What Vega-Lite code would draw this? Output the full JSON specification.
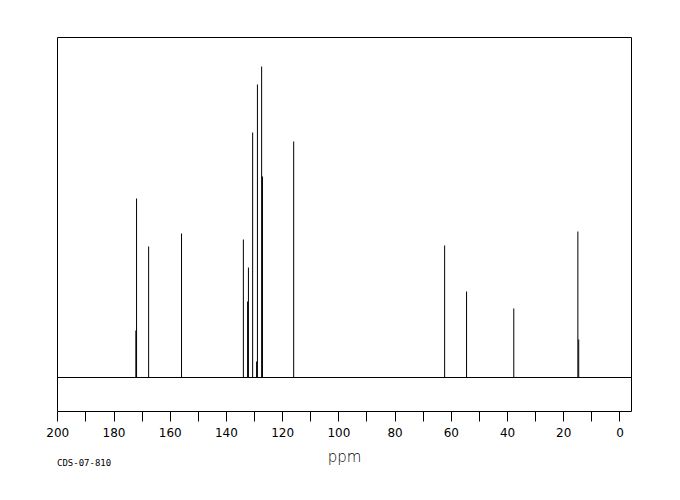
{
  "$schema": "https://vega.github.io/schema/vega-lite/v6.json",
  "width": 574,
  "height": 374,
  "autosize": {"type": "none"},
  "padding": {"left": 57, "top": 37, "right": 49, "bottom": 89},
  "background": "white",
  "config": {"view": {"stroke": "black", "strokeWidth": 1}, "font": "DejaVu Sans"},
  "title": {"text": "CDS-07-810", "orient": "bottom", "anchor": "start", "frame": "group", "fontSize": 9, "font": "DejaVu Sans Mono", "fontWeight": "normal", "color": "black", "offset": -5},
  "data": {"values": [
    {"ppm": 171.8, "height": 179},
    {"ppm": 172.05, "height": 47},
    {"ppm": 167.5, "height": 131},
    {"ppm": 155.8, "height": 144},
    {"ppm": 133.8, "height": 138},
    {"ppm": 132.3, "height": 76},
    {"ppm": 132.0, "height": 110},
    {"ppm": 130.5, "height": 245},
    {"ppm": 129.1, "height": 16},
    {"ppm": 128.8, "height": 293},
    {"ppm": 127.3, "height": 311},
    {"ppm": 127.0, "height": 201},
    {"ppm": 115.9, "height": 236},
    {"ppm": 62.2, "height": 132},
    {"ppm": 54.4, "height": 86},
    {"ppm": 37.6, "height": 69},
    {"ppm": 14.8, "height": 146},
    {"ppm": 14.5, "height": 38}
  ]},
  "layer": [
    {
      "mark": {"type": "rule", "color": "black", "strokeWidth": 1},
      "encoding": {
        "x": {"field": "ppm", "type": "quantitative", "scale": {"domain": [200.1, -4.1], "nice": false, "zero": false},
          "axis": {"orient": "bottom", "values": [200, 190, 180, 170, 160, 150, 140, 130, 120, 110, 100, 90, 80, 70, 60, 50, 40, 30, 20, 10, 0],
            "tickSize": 10, "tickColor": "black", "domain": false, "grid": false,
            "labelExpr": "datum.value % 20 === 0 ? datum.label : ''",
            "labelFlush": false, "labelOverlap": false,
            "labelFontSize": 12, "labelColor": "black", "labelPadding": 6, "format": "d",
            "title": "ppm", "titleFontSize": 15, "titleFontWeight": 200, "titleColor": "black", "titlePadding": 11,
            "encode": {"ticks": {"update": {"y2": {"signal": "datum.value % 20 === 0 ? 10 : 6"}}}}}},
        "y": {"field": "height", "type": "quantitative", "scale": {"domain": [-33.5, 340.5], "nice": false, "zero": false}, "axis": null},
        "y2": {"datum": 0}
      }
    },
    {
      "mark": {"type": "rule", "color": "black", "strokeWidth": 1},
      "encoding": {
        "y": {"datum": 0, "type": "quantitative"}
      }
    }
  ]
}
